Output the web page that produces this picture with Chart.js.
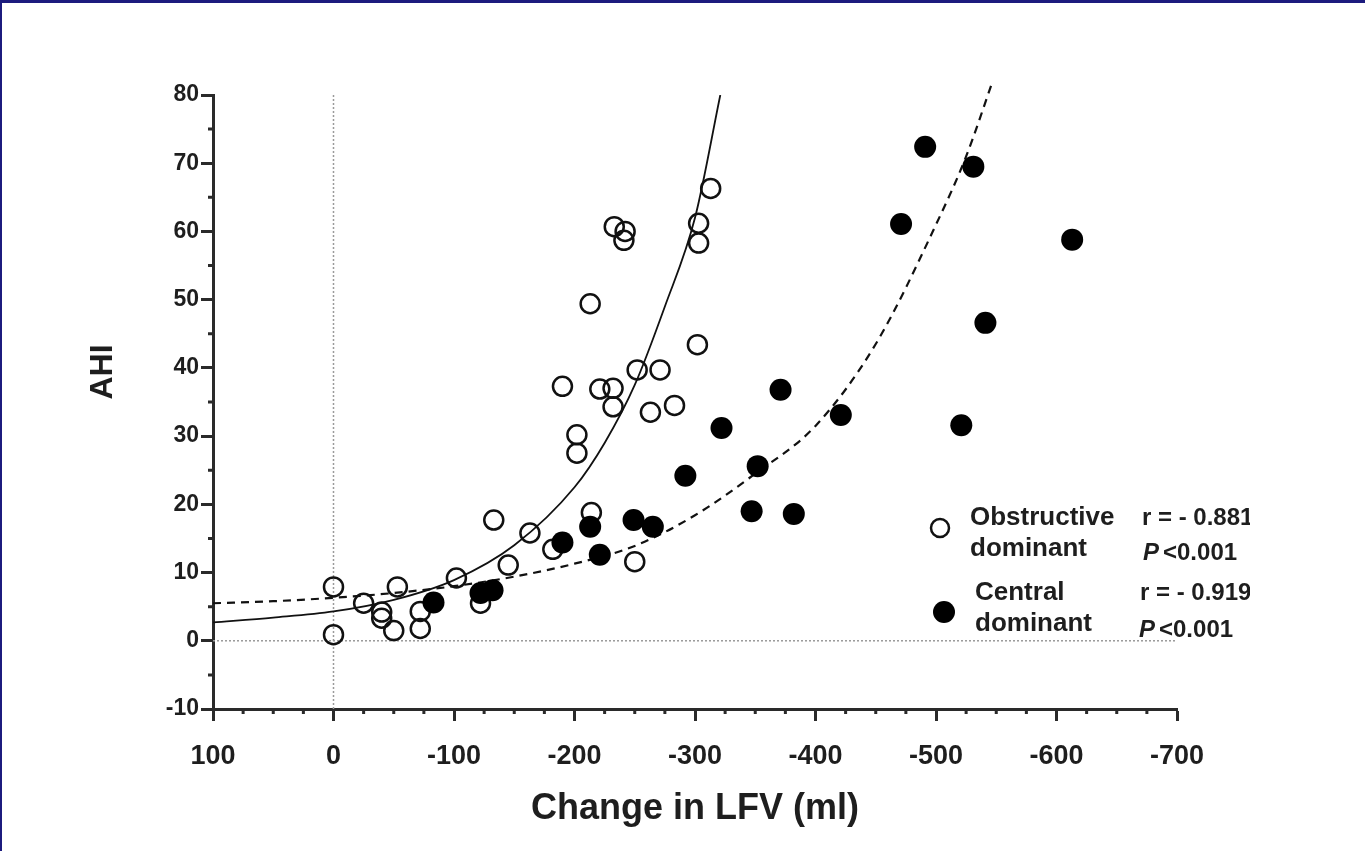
<!DOCTYPE html>
<html>
<head>
<meta charset="utf-8">
<script src="https://cdn.jsdelivr.net/npm/chart.js@4.4.1/dist/chart.umd.min.js"></script>
<style>
  html, body { margin: 0; padding: 0; background: #fff; }
</style>
</head>
<body>
<canvas id="chartAHI" width="1365" height="851"></canvas>
<script>
// Obstructive dominant (open circles)
const obstructiveLfv = [0, 0, -25, -40, -40, -50, -53, -72, -72, -102, -122, -133, -145, -163, -182,
  -190, -202, -202, -213, -214, -221, -232, -232, -233, -242, -241, -250, -252, -263, -271, -283,
  -302, -303, -303, -313];
const obstructiveAhi = [7.9, 0.9, 5.5, 4.2, 3.3, 1.5, 7.9, 1.8, 4.3, 9.2, 5.5, 17.7, 11.1, 15.8, 13.4,
  37.3, 30.2, 27.5, 49.4, 18.8, 36.9, 37.0, 34.3, 60.7, 60.0, 58.7, 11.6, 39.7, 33.5, 39.7, 34.5,
  43.4, 61.2, 58.3, 66.3];

// Central dominant (filled circles)
const centralLfv = [-83, -122, -132, -190, -213, -221, -249, -265, -292, -322, -347, -352, -371,
  -382, -421, -471, -491, -521, -531, -541, -613];
const centralAhi = [5.6, 7.0, 7.4, 14.4, 16.7, 12.6, 17.7, 16.7, 24.2, 31.2, 19.0, 25.6, 36.8,
  18.6, 33.1, 61.1, 72.4, 31.6, 69.5, 46.6, 58.8];

// fitted curves
const obstructiveFitLfv = [100, 50, 0, -50, -100, -150, -200, -225, -250, -275, -300, -321];
const obstructiveFitAhi = [2.7, 3.4, 4.3, 6.0, 8.9, 14.0, 22.5, 29, 37.5, 49, 62, 80];
const centralFitLfv = [100, 50, 0, -50, -100, -150, -200, -250, -300, -350, -400, -450, -500, -525, -547];
const centralFitAhi = [5.5, 5.8, 6.3, 7.0, 8.0, 9.4, 11.3, 13.9, 18.4, 24.5, 31.5, 43.5, 61, 71, 82];

const xMin = -700, xMax = 100, xStep = 100;
const yMin = -10, yMax = 80, yStep = 10;

const pts = (xs, ys) => xs.map((x, i) => ({ x: x, y: ys[i] }));

const ink = '#1e1e1e';
const fontFamily = '"Liberation Sans", Arial, sans-serif';

const framePlugin = {
  id: 'frame',
  beforeDraw(chart) {
    const c = chart.ctx;
    c.save();
    c.fillStyle = '#fff';
    c.fillRect(0, 0, chart.width, chart.height);
    c.restore();
  },
  afterDraw(chart) {
    const c = chart.ctx;
    const xs = chart.scales.x, ys = chart.scales.y;
    c.save();
    // minor ticks
    c.strokeStyle = '#2a2a2a';
    c.lineWidth = 3;
    c.beginPath();
    for (let v = yMin; v <= yMax; v += yStep / 2) {
      if (v % yStep === 0) continue;
      const py = ys.getPixelForValue(v);
      c.moveTo(xs.left - 5, py);
      c.lineTo(xs.left, py);
    }
    for (let v = xMin; v <= xMax; v += xStep / 4) {
      if (v % xStep === 0) continue;
      const px = xs.getPixelForValue(v);
      c.moveTo(px, ys.bottom);
      c.lineTo(px, ys.bottom + 5);
    }
    c.stroke();

    // y axis title, sits a bit above the middle of the axis
    c.save();
    c.translate(103, 372);
    c.rotate(-Math.PI / 2);
    c.fillStyle = ink;
    c.textAlign = 'center';
    c.textBaseline = 'middle';
    c.font = 'bold 32px ' + fontFamily;
    c.fillText('AHI', 0, 0);
    c.restore();

    // legend
    c.lineWidth = 2.5;
    c.strokeStyle = '#111';
    c.beginPath();
    c.arc(940, 528, 9, 0, Math.PI * 2);
    c.stroke();
    c.fillStyle = '#000';
    c.beginPath();
    c.arc(944, 612, 11, 0, Math.PI * 2);
    c.fill();

    c.beginPath();
    c.rect(0, 0, 1250, chart.height);
    c.clip();
    c.fillStyle = ink;
    c.textBaseline = 'middle';
    c.textAlign = 'left';
    c.font = 'bold 26px ' + fontFamily;
    c.fillText('Obstructive', 970, 518);
    c.fillText('dominant', 970, 549);
    c.fillText('Central', 975, 593);
    c.fillText('dominant', 975, 624);
    c.font = 'bold 24px ' + fontFamily;
    c.fillText('r = - 0.881', 1142, 518);
    c.fillText('r = - 0.919', 1140, 593);
    c.fillText('<0.001', 1163, 553);
    c.fillText('<0.001', 1159, 630);
    c.font = 'italic bold 24px ' + fontFamily;
    c.fillText('P', 1143, 553);
    c.fillText('P', 1139, 630);
    c.restore();

    // page frame
    c.save();
    c.fillStyle = '#1c1b7e';
    c.fillRect(0, 0, chart.width, 3);
    c.fillRect(0, 0, 2, chart.height);
    c.restore();
  }
};

new Chart(document.getElementById('chartAHI'), {
  type: 'scatter',
  data: {
    datasets: [
      {
        label: 'Central dominant',
        data: pts(centralLfv, centralAhi),
        pointRadius: 11,
        pointHoverRadius: 11,
        pointBackgroundColor: '#000',
        pointBorderColor: '#000',
        pointBorderWidth: 0,
        order: 0
      },
      {
        label: 'Obstructive dominant',
        data: pts(obstructiveLfv, obstructiveAhi),
        pointRadius: 9.5,
        pointHoverRadius: 9.5,
        pointBackgroundColor: 'rgba(255,255,255,0)',
        pointBorderColor: '#111',
        pointBorderWidth: 2.5,
        order: 1
      },
      {
        label: 'Obstructive fit',
        type: 'line',
        data: pts(obstructiveFitLfv, obstructiveFitAhi),
        borderColor: '#111',
        borderWidth: 1.8,
        pointRadius: 0,
        cubicInterpolationMode: 'monotone',
        order: 2
      },
      {
        label: 'Central fit',
        type: 'line',
        data: pts(centralFitLfv, centralFitAhi),
        borderColor: '#111',
        borderWidth: 2.2,
        borderDash: [8, 6],
        pointRadius: 0,
        cubicInterpolationMode: 'monotone',
        clip: false,
        order: 3
      },
      {
        label: 'x = 0',
        type: 'line',
        data: [{ x: 0, y: yMin }, { x: 0, y: yMax }],
        borderColor: '#9a9a9a',
        borderWidth: 1.5,
        borderDash: [2, 2],
        pointRadius: 0,
        order: 4
      },
      {
        label: 'y = 0',
        type: 'line',
        data: [{ x: xMax, y: 0 }, { x: xMin, y: 0 }],
        borderColor: '#9a9a9a',
        borderWidth: 1.5,
        borderDash: [2, 2],
        pointRadius: 0,
        order: 4
      }
    ]
  },
  options: {
    responsive: false,
    animation: false,
    events: [],
    layout: { padding: { top: 95, right: 188, left: 0, bottom: 0 } },
    plugins: {
      legend: { display: false },
      tooltip: { enabled: false }
    },
    scales: {
      x: {
        type: 'linear',
        reverse: true,
        min: xMin,
        max: xMax,
        ticks: {
          stepSize: xStep,
          color: ink,
          padding: 19,
          font: { family: fontFamily, size: 27, weight: 'bold' }
        },
        grid: {
          drawOnChartArea: false,
          drawTicks: true,
          tickLength: 12,
          tickWidth: 3,
          tickColor: '#2a2a2a'
        },
        border: { display: true, color: '#2a2a2a', width: 3 },
        title: {
          display: true,
          text: 'Change in LFV (ml)',
          color: ink,
          font: { family: fontFamily, size: 36, weight: 'bold' },
          padding: { top: 0, bottom: 20 }
        },
        afterFit(scale) { scale.height = 142; }
      },
      y: {
        type: 'linear',
        min: yMin,
        max: yMax,
        ticks: {
          stepSize: yStep,
          color: ink,
          padding: 2,
          font: { family: fontFamily, size: 23, weight: 'bold' }
        },
        grid: {
          drawOnChartArea: false,
          drawTicks: true,
          tickLength: 12,
          tickWidth: 3,
          tickColor: '#2a2a2a'
        },
        border: { display: true, color: '#2a2a2a', width: 3 },
        afterFit(scale) { scale.width = 213; }
      }
    }
  },
  plugins: [framePlugin]
});
</script>
</body>
</html>
